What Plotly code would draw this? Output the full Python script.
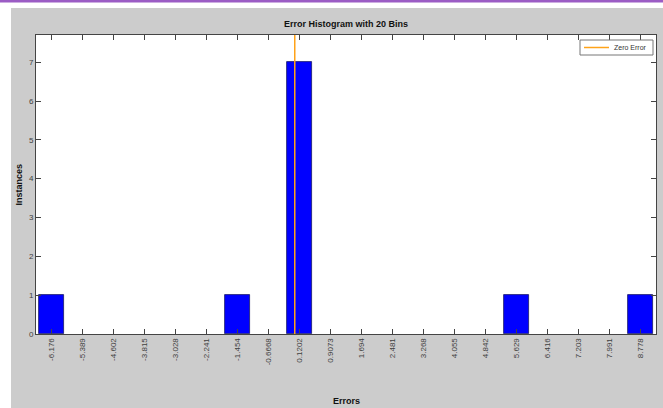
import plotly.graph_objects as go

# ---- data ----
tick_labels = ["-6.176", "-5.389", "-4.602", "-3.815", "-3.028", "-2.241", "-1.454",
               "-0.6668", "0.1202", "0.9073", "1.694", "2.481", "3.268", "4.055",
               "4.842", "5.629", "6.416", "7.203", "7.991", "8.778"]
bin_centers = [float(t) for t in tick_labels]
counts = [1, 0, 0, 0, 0, 0, 1, 0, 7, 0, 0, 0, 0, 0, 0, 1, 0, 0, 0, 1]
zero_error_x = [0, 0]
zero_error_y = [0, 7.7]

# ---- layout geometry (pixels) ----
W, H = 663, 408
L, T, R, B = 36, 35, 656, 334
pw, ph = R - L, B - T

def px(x):
    return (x - L) / pw

def py(y):
    return (B - y) / ph

bin_w = (bin_centers[-1] - bin_centers[0]) / (len(bin_centers) - 1)
font_family = "Liberation Sans, Arial, sans-serif"
ORANGE = "#ffa319"

fig = go.Figure()
fig.add_trace(go.Bar(
    x=bin_centers, y=counts, width=[0.8 * bin_w] * len(counts),
    marker=dict(color="#0000ff",
                line=dict(color="#1a1a66", width=[0.8 if c > 0 else 0 for c in counts])),
    showlegend=False, hoverinfo="x+y",
))
fig.add_trace(go.Scatter(
    x=zero_error_x, y=zero_error_y, mode="lines", name="Zero Error",
    line=dict(color=ORANGE, width=1.5), showlegend=False,
))

shapes = [
    dict(type="rect", xref="paper", yref="paper", x0=px(0), x1=px(11), y0=py(H), y1=py(0),
         fillcolor="white", line=dict(width=0), layer="above"),
    dict(type="rect", xref="paper", yref="paper", x0=px(0), x1=px(W), y0=py(8), y1=py(0),
         fillcolor="white", line=dict(width=0), layer="above"),
    dict(type="rect", xref="paper", yref="paper", x0=px(0), x1=px(W), y0=py(2.5), y1=py(0),
         fillcolor="#9b5cc4", line=dict(width=0), layer="above"),
    # legend box
    dict(type="rect", xref="paper", yref="paper", x0=px(580), x1=px(653), y0=py(55), y1=py(40),
         fillcolor="white", line=dict(width=1, color="#777777"), layer="above"),
    dict(type="line", xref="paper", yref="paper", x0=px(584), x1=px(609), y0=py(47.5), y1=py(47.5),
         line=dict(width=1.5, color=ORANGE), layer="above"),
]

annotations = [
    dict(text="<b>Error Histogram with 20 Bins</b>", xref="paper", yref="paper",
         x=0.5, y=py(24), xanchor="center", yanchor="middle", showarrow=False,
         font=dict(size=9, color="#111111", family=font_family)),
    dict(text="<b>Errors</b>", xref="paper", yref="paper",
         x=0.5, y=py(401), xanchor="center", yanchor="middle", showarrow=False,
         font=dict(size=9, color="#111111", family=font_family)),
    dict(text="<b>Instances</b>", xref="paper", yref="paper",
         x=px(18), y=0.5, xanchor="center", yanchor="middle", showarrow=False,
         textangle=-90, font=dict(size=9, color="#111111", family=font_family)),
    dict(text="Zero Error", xref="paper", yref="paper",
         x=px(612), y=py(47.5), xanchor="left", yanchor="middle", showarrow=False,
         font=dict(size=7, color="#333333", family=font_family)),
]

fig.update_layout(
    width=W, height=H,
    margin=dict(l=L, r=W - R, t=T, b=H - B, pad=0),
    paper_bgcolor="#cccccc", plot_bgcolor="white",
    font=dict(family=font_family, size=8, color="#404040"),
    shapes=shapes, annotations=annotations,
    bargap=0, showlegend=False,
)
fig.update_xaxes(
    range=[bin_centers[0] - bin_w / 2, bin_centers[-1] + bin_w / 2],
    tickmode="array", tickvals=bin_centers, ticktext=tick_labels, tickangle=-90,
    ticks="inside", ticklen=5, tickcolor="#444444", mirror="ticks",
    showline=True, linecolor="#444444", linewidth=1,
    showgrid=False, zeroline=False, tickfont=dict(size=8, color="#404040"),
)
fig.update_yaxes(
    range=[0, 7.7], tickmode="array", tickvals=list(range(0, 8)),
    ticks="inside", ticklen=5, tickcolor="#444444", mirror="ticks",
    showline=True, linecolor="#444444", linewidth=1,
    showgrid=False, zeroline=False, tickfont=dict(size=8, color="#404040"),
)

fig.write_html(
    "out.html",
    config={"displayModeBar": False},
    post_script="document.body.style.margin='0';document.body.style.overflow='hidden';",
)
